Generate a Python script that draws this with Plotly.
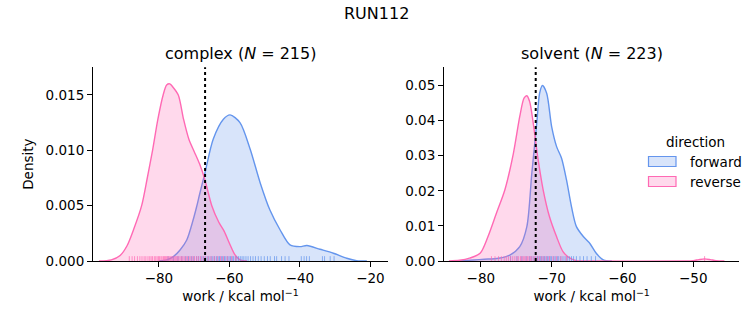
import plotly.graph_objects as go

# ---- figure geometry (pixels) ----
W, H = 753, 325
FONT = "DejaVu Sans"

BLUE = "#6495ED"
PINK = "#FF69B4"
BLUE_FILL = "rgba(100,149,237,0.25)"
PINK_FILL = "rgba(255,105,180,0.25)"

# ---- kernel density curves: work (kcal/mol) vs density ----
complex_fwd_x = [-80.0, -77.8, -75.9, -74.0, -72.1, -70.3, -69.3, -68.4, -66.9, -64.6,
                 -61.7, -59.8, -57.0, -54.1, -51.3, -48.5, -45.6, -42.8, -40.0, -38.0,
                 -34.3, -30.5, -26.7, -23.9, -21.0]
complex_fwd_y = [0.0, 0.0001, 0.0004, 0.0010, 0.0019, 0.0037, 0.0049, 0.0061, 0.0080, 0.0110,
                 0.0128, 0.0132, 0.0125, 0.0101, 0.0071, 0.0046, 0.0028, 0.00145, 0.0013, 0.0014,
                 0.00106, 0.0007, 0.00025, 0.00003, 0.0]

complex_rev_x = [-97.0, -93.5, -91.0, -89.0, -87.0, -84.9, -83.3, -81.8, -80.3, -78.8,
                 -77.8, -76.9, -76.0, -74.5, -73.0, -71.5, -70.0, -68.5, -67.0, -65.0,
                 -63.0, -61.5, -60.0, -58.5, -57.0, -55.0]
complex_rev_y = [0.0, 0.0001, 0.0005, 0.0014, 0.0030, 0.0050, 0.0075, 0.0100, 0.0128, 0.0150,
                 0.0159, 0.0160, 0.0157, 0.0150, 0.0128, 0.0110, 0.0099, 0.0088, 0.0074, 0.0050,
                 0.0035, 0.0027, 0.0016, 0.0006, 0.0001, 0.0]

solvent_fwd_x = [-83.0, -81.0, -79.5, -77.5, -75.9, -74.5, -73.5, -72.8, -72.1, -71.7,
                 -71.3, -70.7, -70.0, -69.3, -68.6, -67.9, -67.2, -66.5, -65.5, -64.6,
                 -63.7, -62.7, -61.5]
solvent_fwd_y = [0.0, 0.0003, 0.0005, 0.0008, 0.0017, 0.0041, 0.0098, 0.0250, 0.0393, 0.0478,
                 0.0500, 0.0478, 0.0383, 0.0326, 0.0293, 0.0231, 0.0155, 0.0098, 0.0069, 0.0050,
                 0.0022, 0.0003, 0.0]

solvent_rev_x = [-84.5, -83.0, -81.6, -80.1, -79.0, -77.8, -76.6, -75.4, -74.5, -73.9,
                 -73.5, -73.1, -72.6, -71.9, -71.2, -70.3, -69.3, -68.4, -67.4, -66.5,
                 -65.5, -51.0, -50.0, -49.2, -48.4, -47.6, -46.8, -45.6]
solvent_rev_y = [0.0, 0.0002, 0.0008, 0.0022, 0.0069, 0.0136, 0.0203, 0.0307, 0.0412, 0.0464,
                 0.0471, 0.0454, 0.0393, 0.0288, 0.0203, 0.0126, 0.0069, 0.0027, 0.0008, 0.0001,
                 0.0, 0.0, 0.0001, 0.0004, 0.0006, 0.0004, 0.0001, 0.0]

# ---- individual work values (rug) ----
complex_fwd_work = [-77.4, -75.9, -74.6, -73.5, -72.4, -71.6, -70.8, -70.1, -69.3, -68.7,
                    -68.0, -67.4, -66.9, -66.3, -65.8, -65.2, -64.7, -64.2, -63.7, -63.2,
                    -62.8, -62.3, -61.9, -61.4, -61.0, -60.5, -60.1, -59.7, -59.2, -58.8,
                    -58.3, -57.9, -57.4, -56.9, -56.4, -55.9, -55.3, -54.7, -54.0, -53.3,
                    -52.6, -51.8, -51.0, -50.1, -49.2, -48.4, -47.2, -46.6, -45.2, -44.2,
                    -43.1, -39.6, -38.8, -38.1, -37.3, -33.6, -33.0, -31.4, -30.3]
complex_rev_work = [-88.4, -87.6, -86.9, -86.1, -85.4, -84.8, -84.2, -83.7, -83.1, -82.6,
                    -82.2, -81.8, -81.3, -80.9, -80.5, -80.1, -79.8, -79.4, -79.1, -78.7,
                    -78.4, -78.1, -77.8, -77.5, -77.2, -76.9, -76.6, -76.3, -76.0, -75.7,
                    -75.4, -75.1, -74.8, -74.4, -74.0, -73.6, -73.2, -72.8, -72.3, -71.9,
                    -71.4, -70.9, -70.4, -69.9, -69.3, -68.8, -68.2, -67.5, -66.8, -66.0,
                    -65.2, -64.3, -63.4, -62.5, -61.7, -60.6, -59.4, -58.2]
solvent_fwd_work = [-75.8, -74.9, -74.2, -73.6, -73.1, -72.8, -72.5, -72.2, -72.0, -71.8,
                    -71.6, -71.4, -71.2, -71.0, -70.8, -70.6, -70.4, -70.2, -70.0, -69.7,
                    -69.5, -69.2, -69.0, -68.7, -68.4, -68.1, -67.8, -67.5, -67.2, -66.9,
                    -66.5, -66.0, -65.5, -65.0, -64.4, -63.8]
solvent_rev_work = [-78.5, -78.0, -77.5, -77.1, -76.7, -76.4, -76.1, -75.8, -75.5, -75.2,
                    -74.9, -74.7, -74.4, -74.2, -74.0, -73.8, -73.6, -73.4, -73.2, -73.0,
                    -72.8, -72.5, -72.3, -72.0, -71.7, -71.4, -71.1, -70.7, -70.3, -69.8,
                    -69.3, -68.7, -67.9, -48.4]

# free-energy estimate marked on each panel
estimate = [-66.9, -72.25]

titles = ["complex (<i>N</i> = 215)", "solvent (<i>N</i> = 223)"]
suptitle = "RUN112"
x_ticks = [[-80, -60, -40, -20], [-80, -70, -60, -50]]
y_ticks = [[0.0, 0.005, 0.010, 0.015], [0.0, 0.01, 0.02, 0.03, 0.04, 0.05]]
y_fmt = [".3f", ".2f"]
x_ranges = [[-98.7, -15.0], [-85.2, -43.5]]
y_ranges = [[0, 0.0175], [0, 0.0552]]
legend_labels = ["forward", "reverse"]


def px(xp):
    return xp / W


def py(yp):
    return 1 - yp / H


panels = [
    (complex_fwd_x, complex_fwd_y, complex_rev_x, complex_rev_y, complex_fwd_work, complex_rev_work),
    (solvent_fwd_x, solvent_fwd_y, solvent_rev_x, solvent_rev_y, solvent_fwd_work, solvent_rev_work),
]
x_domains = [[px(93), px(388)], [px(444), px(739.3)]]
y_domain = [py(261), py(67.3)]

fig = go.Figure()
shapes = []
annotations = []

for i, (fx, fy, rx, ry, fw, rw) in enumerate(panels):
    xa = "x" if i == 0 else "x2"
    ya = "y" if i == 0 else "y2"
    for xs, ys, lc, fc in [(fx, fy, BLUE, BLUE_FILL), (rx, ry, PINK, PINK_FILL)]:
        fig.add_trace(go.Scatter(
            x=xs, y=ys, xaxis=xa, yaxis=ya, mode="lines",
            line=dict(color=lc, width=1.4, shape="spline", smoothing=0.8),
            fill="tozeroy", fillcolor=fc, showlegend=False, hoverinfo="skip",
        ))
    # rug ticks
    for vals, col in [(fw, BLUE), (rw, PINK)]:
        for v in vals:
            shapes.append(dict(type="line", xref=xa, yref=f"{ya} domain",
                               x0=v, x1=v, y0=0, y1=0.025,
                               line=dict(color=col, width=1), opacity=0.7))
    # estimate marker
    shapes.append(dict(type="line", xref=xa, yref=f"{ya} domain",
                       x0=estimate[i], x1=estimate[i], y0=0, y1=1,
                       line=dict(color="black", width=2, dash="dot")))
    annotations.append(dict(text=titles[i], xref="paper", yref="paper",
                            x=sum(x_domains[i]) / 2, y=py(54), showarrow=False,
                            xanchor="center", yanchor="middle",
                            font=dict(family=FONT, size=16, color="black")))

axis_common = dict(showline=True, linecolor="black", linewidth=1.1, ticks="outside",
                   ticklen=5, tickwidth=1.1, tickcolor="black", showgrid=False,
                   zeroline=False, mirror=False, automargin=False,
                   tickfont=dict(family=FONT, size=13.5, color="black"))

xtitle = dict(text="work / kcal mol<sup>−1</sup>", font=dict(family=FONT, size=13.5, color="black"),
              standoff=6)

fig.update_layout(
    template="none",
    width=W, height=H,
    margin=dict(l=0, r=0, t=0, b=0),
    plot_bgcolor="white", paper_bgcolor="white",
    showlegend=False,
    xaxis=dict(domain=x_domains[0], range=x_ranges[0], tickvals=x_ticks[0],
               anchor="y", title=xtitle, **axis_common),
    yaxis=dict(domain=y_domain, range=y_ranges[0], tickvals=y_ticks[0], tickformat=y_fmt[0],
               anchor="x", title=dict(text="Density", font=dict(family=FONT, size=13.5, color="black"),
                                      standoff=8),
               **axis_common),
    xaxis2=dict(domain=x_domains[1], range=x_ranges[1], tickvals=x_ticks[1],
                anchor="y2", title=xtitle, **axis_common),
    yaxis2=dict(domain=y_domain, range=y_ranges[1], tickvals=y_ticks[1], tickformat=y_fmt[1],
                anchor="x2", **axis_common),
)

# figure title
annotations.append(dict(text=suptitle, xref="paper", yref="paper", x=px(376.5), y=py(13),
                        showarrow=False, xanchor="center", yanchor="middle",
                        font=dict(family=FONT, size=16, color="black")))

# legend: title, patches, labels
annotations.append(dict(text="direction", xref="paper", yref="paper", x=px(695), y=py(141.5),
                        showarrow=False, xanchor="center", yanchor="middle",
                        font=dict(family=FONT, size=13.5, color="black")))
for k, (lab, lc, fc) in enumerate(zip(legend_labels, [BLUE, PINK], [BLUE_FILL, PINK_FILL])):
    yc = 161.5 + 20 * k
    shapes.append(dict(type="rect", xref="paper", yref="paper",
                       x0=px(648.5), x1=px(676), y0=py(yc + 5), y1=py(yc - 5),
                       fillcolor=fc, line=dict(color=lc, width=1.2)))
    annotations.append(dict(text=lab, xref="paper", yref="paper", x=px(687.5), y=py(yc),
                            showarrow=False, xanchor="left", yanchor="middle",
                            font=dict(family=FONT, size=13.5, color="black")))

fig.update_layout(shapes=shapes, annotations=annotations)
fig.write_html("out.html")
